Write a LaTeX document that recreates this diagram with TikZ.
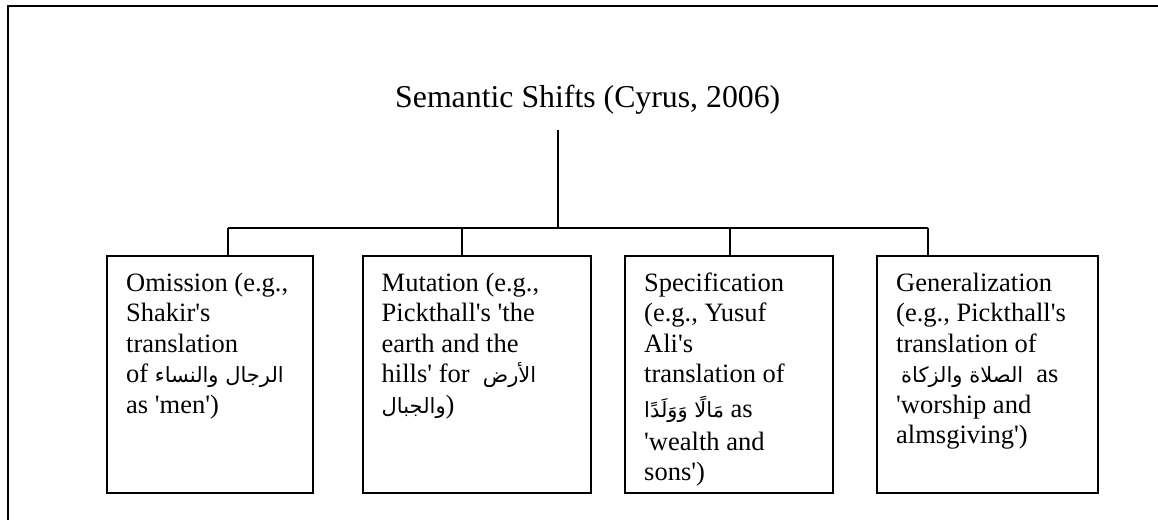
\documentclass[tikz,border=0pt]{standalone}
\usepackage{fontspec}
\setmainfont{Liberation Serif}
\newfontfamily\arabicfont[Script=Arabic]{DejaVu Sans}
\TeXXeTstate=1
% Arabic phrase set right to left in its own box inside a left-to-right line
\newcommand{\ar}[1]{\leavevmode\hbox{\arabicfont\fontsize{21}{30.5}\selectfont\beginR #1\endR}}
% straight apostrophe
\newcommand{\q}{\textquotesingle}
% left-aligned block of box text, baseline at its first line
\newcommand{\boxtext}[1]{\parbox[t]{240pt}{\fontsize{26.5}{30.5}\selectfont\lineskiplimit=-100pt\raggedright #1}}

\tikzset{
  box/.style={draw, line width=1.6pt, minimum height=237pt, inner sep=0pt, anchor=north west},
  txt/.style={anchor=base west, inner sep=0pt},
  link/.style={line width=1.6pt},
  frame/.style={line width=2pt, line join=miter},
}

\begin{document}
\begin{tikzpicture}[x=1pt,y=1pt]
\useasboundingbox (0,0) rectangle (1158,-519);

% open frame: left and top sides
\draw[frame] (8,-530) -- (8,-6) -- (1170,-6);

% title
\node[anchor=base west, inner sep=0pt, font=\fontsize{31.8}{36}\selectfont] (title) at (395,-107) {Semantic Shifts (Cyrus, 2006)};

% boxes
\node[box, minimum width=206pt] (b1) at (106,-255) {};
\node[box, minimum width=228pt] (b2) at (362,-255) {};
\node[box, minimum width=208pt] (b3) at (624,-255) {};
\node[box, minimum width=221pt] (b4) at (876,-255) {};

% box texts
\node[txt] (t1) at (126,-291) {\boxtext{Omission (e.g.,\\Shakir\q{}s\\translation\\of \ar{الرجال والنساء}\\as \q{}men\q{})}};
\node[txt] (t2) at (381.5,-291) {\boxtext{Mutation (e.g.,\\Pickthall\q{}s \q{}the\\earth and the\\hills\q{} for~~\ar{الأرض}\\\ar{والجبال})}};
\node[txt] (t3) at (644,-291) {\boxtext{Specification\\(e.g., Yusuf\\Ali\q{}s\\translation of\\[4.7pt]\ar{مَالًا وَوَلَدًا} as\\[2pt]\q{}wealth and\\sons\q{})}};
\node[txt] (t4) at (896,-291) {\boxtext{Generalization\\(e.g., Pickthall\q{}s\\translation of\\\hspace*{5pt}\ar{الصلاة والزكاة}~~as\\\q{}worship and\\almsgiving\q{})}};

% connector tree
\coordinate (stem) at (558,-130);
\coordinate (hub) at (558,-228);
\coordinate (d1) at (228,-228);
\coordinate (d2) at (462,-228);
\coordinate (d3) at (730,-228);
\coordinate (d4) at (928,-228);
\draw[link] (stem) -- (hub);
\draw[link] (d1) -- (d4);
\draw[link] (d1) -- (d1 |- b1.north);
\draw[link] (d2) -- (d2 |- b2.north);
\draw[link] (d3) -- (d3 |- b3.north);
\draw[link] (d4) -- (d4 |- b4.north);
\end{tikzpicture}
\end{document}
